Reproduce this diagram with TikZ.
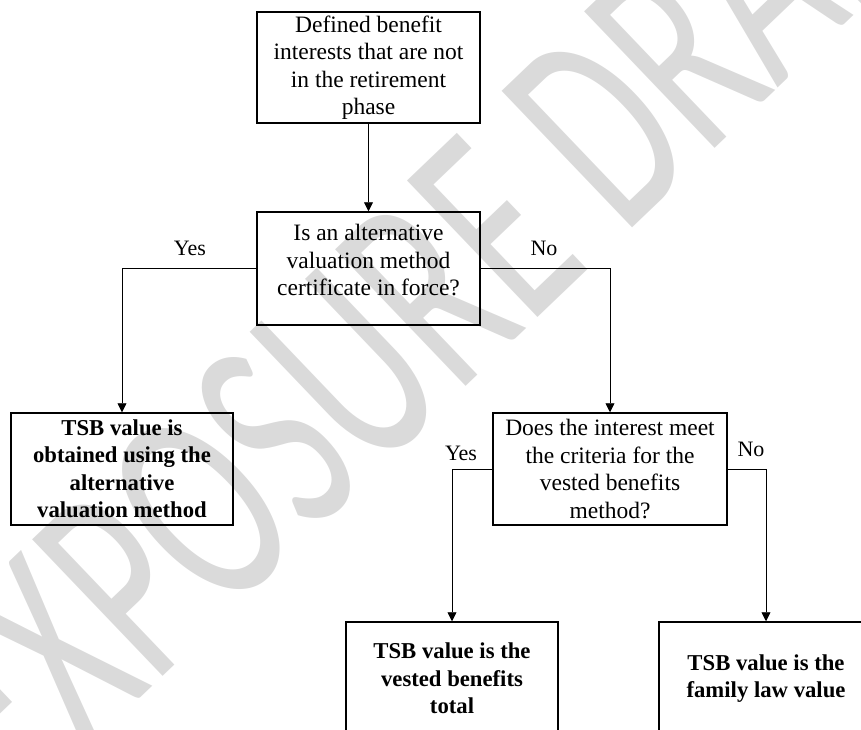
\documentclass[tikz,border=0pt]{standalone}
\usepackage{fontspec}
\setmainfont{Liberation Serif}
\newfontfamily\wmfont{Carlito}
\usetikzlibrary{arrows.meta,positioning}
\definecolor{wmgray}{RGB}{218,218,218}

\begin{document}
\begin{tikzpicture}[x=1pt,y=-1pt,>={Triangle[width=9pt,length=9pt]},
    box/.style={draw,line width=1.5pt,inner sep=0pt,align=center,font=\fontsize{23.5}{27.5}\selectfont},
    result/.style={box,font=\fontsize{22.7}{27.5}\selectfont\bfseries},
    tag/.style={inner sep=0pt,font=\fontsize{22}{26}\selectfont},
    link/.style={->,line width=0.8pt}]

    \useasboundingbox (0,0) rectangle (861,729);
    \clip (0,0) rectangle (861,729);

    % watermark behind everything
    \node[text=wmgray,inner sep=0pt,font=\wmfont\fontsize{184}{184}\selectfont,rotate=43.7,yscale=1.6,transform shape] (wm) at (435,286) {EXPOSURE DRAFT};

    \node[box,minimum width=223pt,minimum height=111pt] (start) at (368.5,67.5) {Defined benefit\\interests that are not\\in the retirement\\phase};
    \node[box,minimum width=223pt,minimum height=113pt] (avm) at (368.5,268.5) {Is an alternative\\valuation method\\certificate in force?\\[-11pt]\mbox{}};
    \node[result,minimum width=222pt,minimum height=112pt] (altval) at (122,469) {TSB value is\\obtained using the\\alternative\\valuation method};
    \node[box,minimum width=234pt,minimum height=112pt] (vbm) at (610,469) {Does the interest meet\\the criteria for the\\vested benefits\\method?};
    \node[result,minimum width=212pt,minimum height=113pt] (vested) at (452,678.5) {TSB value is the\\vested benefits\\total};
    \node[result,minimum width=214pt,minimum height=113pt] (family) at (766,678.5) {TSB value is the\\family law value};

    \node[tag] (yes1) at (190,248) {Yes};
    \node[tag] (no1) at (544,248) {No};
    \node[tag] (yes2) at (461,453) {Yes};
    \node[tag] (no2) at (751,449) {No};

    \draw[link] (start) -- (avm);
    \draw[link] (avm.west) -| (altval.north);
    \draw[link] (avm.east) -| (vbm.north);
    \draw[link] (vbm.west) -| (vested.north);
    \draw[link] (vbm.east) -| (family.north);
\end{tikzpicture}
\end{document}
